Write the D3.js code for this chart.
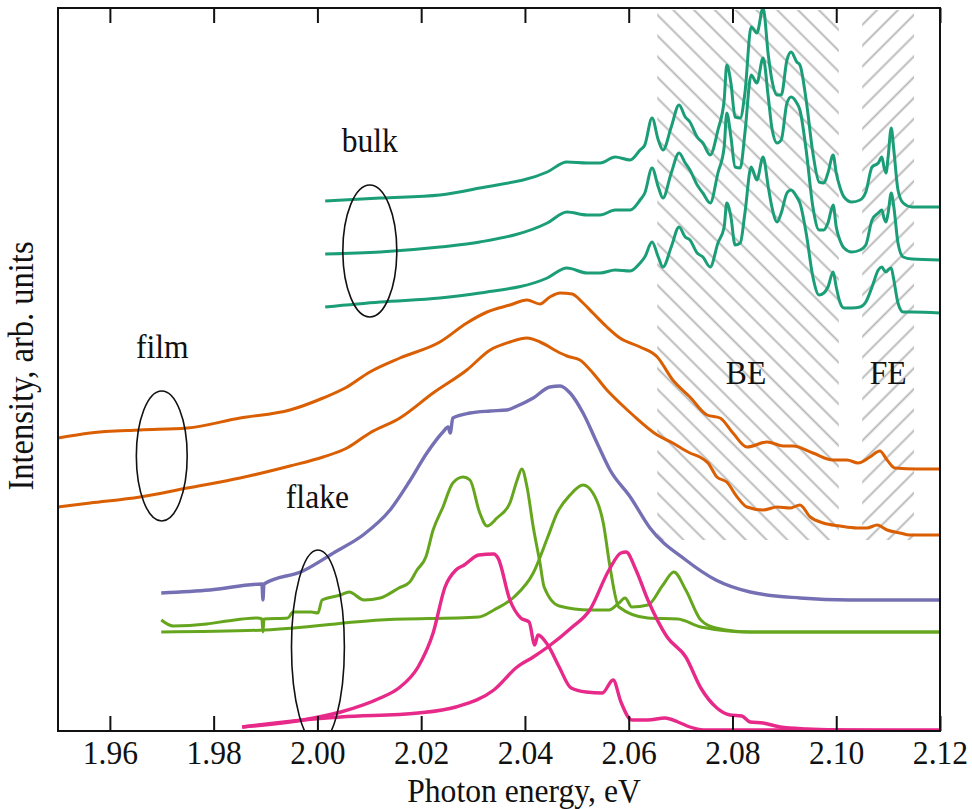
<!DOCTYPE html>
<html>
<head>
<meta charset="utf-8">
<script src="https://cdn.jsdelivr.net/npm/d3@7"></script>
<style>
  body { margin: 0; background: #fff; }
  svg { display: block; }
  text { font-family: "Liberation Serif", "Times New Roman", serif; fill: #111; }
</style>
</head>
<body>
<div id="chart"></div>
<script>
// ---- data (energy in eV, intensity in arb. units) ----
var xTicks = [1.96, 1.98, 2.00, 2.02, 2.04, 2.06, 2.08, 2.10, 2.12];

// bulk: three spectra sampled on the same energies
var bulkEnergy = [2.0015, 2.0121, 2.0236, 2.0313, 2.0443, 2.0481, 2.0520, 2.0545, 2.0574, 2.0603,
  2.0622, 2.0631, 2.0645, 2.0657, 2.0666, 2.0682, 2.0697, 2.0709, 2.0718, 2.0732,
  2.0743, 2.0757, 2.0772, 2.0784, 2.0789, 2.0797, 2.0805, 2.0815, 2.0824, 2.0836,
  2.0847, 2.0859, 2.0869, 2.0876, 2.0886, 2.0894, 2.0905, 2.0913, 2.0924, 2.0930,
  2.0942, 2.0955, 2.0967, 2.0976, 2.0984, 2.0994, 2.1000, 2.1007, 2.1015, 2.1030,
  2.1046, 2.1057, 2.1069, 2.1081, 2.1088, 2.1092, 2.1096, 2.1100, 2.1106, 2.1111,
  2.1119, 2.1129, 2.1146, 2.1200];
var bulkTop = [53.0, 53.3, 53.6, 54.3, 55.9, 56.9, 56.8, 56.8, 57.4, 57.1,
  58.1, 58.6, 61.3, 59.1, 58.1, 60.4, 62.6, 61.4, 60.9, 59.4,
  58.8, 57.6, 60.1, 63.1, 66.6, 64.8, 61.4, 61.3, 63.8, 70.4,
  69.8, 72.3, 67.6, 65.1, 63.6, 63.6, 67.1, 67.9, 66.9, 66.6,
  63.1, 57.8, 54.9, 54.8, 55.8, 57.6, 55.8, 54.4, 53.4, 52.9,
  53.1, 53.9, 56.4, 56.8, 57.4, 56.4, 55.8, 57.4, 60.3, 58.1,
  54.1, 52.8, 52.4, 52.4];
var bulkMid = [47.7, 47.9, 48.4, 48.9, 50.8, 51.9, 51.6, 51.6, 52.1, 52.1,
  53.1, 53.8, 56.3, 54.4, 53.3, 55.8, 57.8, 56.8, 56.1, 54.6,
  53.8, 52.8, 55.8, 58.4, 61.8, 59.4, 56.4, 56.3, 59.8, 65.6,
  64.8, 67.3, 63.4, 60.3, 58.8, 59.1, 62.8, 63.4, 62.8, 62.1,
  58.1, 52.4, 50.1, 50.1, 50.8, 52.6, 50.4, 49.1, 48.3, 47.9,
  48.1, 48.6, 51.1, 51.8, 52.1, 51.3, 50.9, 51.8, 53.8, 52.4,
  48.8, 47.4, 47.2, 47.1];
var bulkLow = [42.4, 42.9, 43.3, 43.8, 45.3, 46.3, 45.8, 45.8, 46.1, 46.0,
  46.8, 47.4, 48.9, 47.4, 46.4, 48.4, 50.4, 49.4, 49.1, 47.8,
  47.4, 46.4, 48.8, 50.4, 52.8, 51.4, 48.6, 48.8, 51.8, 56.4,
  55.1, 57.4, 54.4, 52.4, 50.9, 51.8, 53.8, 54.1, 53.4, 52.8,
  49.8, 45.4, 43.6, 43.8, 44.4, 45.9, 44.4, 42.9, 42.3, 42.3,
  42.4, 42.9, 44.4, 46.1, 46.4, 46.1, 45.9, 46.1, 46.3, 45.1,
  42.8, 41.9, 41.9, 41.8];

// film
var filmTopEnergy = [1.9500, 1.9562, 1.9658, 1.9749, 1.9851, 1.9947, 2.0011, 2.0057, 2.0101, 2.0159,
  2.0236, 2.0288, 2.0327, 2.0371, 2.0404, 2.0429, 2.0448, 2.0468, 2.0491, 2.0510,
  2.0531, 2.0558, 2.0583, 2.0622, 2.0655, 2.0685, 2.0718, 2.0751, 2.0776, 2.0801,
  2.0828, 2.0867, 2.0898, 2.0917, 2.0955, 2.0994, 2.1021, 2.1042, 2.1065, 2.1084,
  2.1098, 2.1113, 2.1156, 2.1200];
var filmTop = [29.3, 29.8, 30.1, 30.3, 31.3, 32.1, 33.3, 34.4, 35.9, 37.3,
  38.9, 40.8, 41.9, 42.6, 43.1, 42.7, 43.4, 43.8, 43.7, 42.9,
  41.8, 40.4, 39.3, 38.4, 37.4, 35.1, 33.4, 31.6, 31.3, 29.8,
  28.4, 28.9, 28.5, 28.5, 27.8, 27.1, 27.1, 26.8, 27.4, 28.0,
  27.1, 26.3, 26.2, 26.2];
var filmLowEnergy = [1.9500, 1.9562, 1.9658, 1.9749, 1.9851, 1.9947, 2.0011, 2.0057, 2.0101, 2.0159,
  2.0223, 2.0288, 2.0333, 2.0371, 2.0404, 2.0429, 2.0468, 2.0481, 2.0506, 2.0531,
  2.0558, 2.0583, 2.0608, 2.0655, 2.0685, 2.0718, 2.0737, 2.0753, 2.0770, 2.0789,
  2.0809, 2.0828, 2.0859, 2.0886, 2.0911, 2.0930, 2.0950, 2.0975, 2.1007, 2.1040,
  2.1059, 2.1079, 2.1098, 2.1123, 2.1142, 2.1200];
var filmLow = [22.4, 22.8, 23.4, 24.3, 25.3, 26.5, 27.4, 28.3, 29.8, 31.3,
  33.8, 36.1, 38.1, 38.9, 39.3, 38.9, 37.8, 37.5, 37.1, 35.8,
  34.1, 32.8, 31.6, 29.6, 28.8, 27.8, 27.4, 26.8, 25.4, 24.9,
  23.4, 22.4, 22.1, 22.4, 22.3, 22.6, 21.4, 20.8, 20.5, 20.3,
  20.3, 20.6, 20.1, 19.8, 19.6, 19.6];

// flake
var flakeBlueEnergy = [1.9699, 1.9793, 1.9893, 1.9895, 1.9897, 1.9972, 2.0034, 2.0088, 2.0140, 2.0178,
  2.0211, 2.0242, 2.0252, 2.0256, 2.0261, 2.0294, 2.0333, 2.0365, 2.0385, 2.0416,
  2.0448, 2.0468, 2.0487, 2.0512, 2.0539, 2.0564, 2.0603, 2.0641, 2.0710, 2.0768,
  2.0834, 2.0930, 2.1027, 2.1200];
var flakeBlue = [13.8, 14.1, 14.7, 13.1, 14.7, 16.0, 17.9, 19.6, 22.1, 25.0,
  27.8, 29.9, 30.4, 29.8, 31.3, 31.8, 32.0, 32.1, 32.5, 33.3,
  34.4, 34.5, 33.8, 31.8, 28.8, 26.1, 23.4, 20.3, 17.1, 15.1,
  13.9, 13.3, 13.1, 13.1];
var flakeGreenAEnergy = [1.9699, 1.9722, 1.9787, 1.9826, 1.9884, 1.9893, 1.9895, 1.9897, 1.9943, 1.9953,
  1.9988, 2.0001, 2.0009, 2.0045, 2.0061, 2.0090, 2.0121, 2.0157, 2.0178, 2.0192,
  2.0209, 2.0223, 2.0242, 2.0261, 2.0281, 2.0294, 2.0313, 2.0327, 2.0346, 2.0371,
  2.0385, 2.0394, 2.0404, 2.0416, 2.0429, 2.0437, 2.0466, 2.0525, 2.0562, 2.0581,
  2.0593, 2.0606, 2.0637, 2.0666, 2.0687, 2.0710, 2.0739, 2.0768, 2.0834, 2.1200];
var flakeGreenA = [11.1, 10.5, 10.7, 11.0, 11.3, 11.2, 9.9, 11.2, 11.3, 11.9,
  11.9, 11.8, 13.1, 13.6, 13.9, 13.1, 13.3, 14.3, 14.9, 16.1,
  17.4, 20.1, 22.4, 24.8, 25.4, 25.1, 21.8, 20.5, 21.3, 22.8,
  25.1, 26.2, 24.4, 20.4, 16.8, 14.4, 12.5, 12.1, 12.1, 12.8,
  13.3, 12.4, 12.6, 14.6, 15.9, 14.1, 11.1, 10.3, 9.9, 9.9];
var flakeGreenBEnergy = [1.9699, 1.9899, 2.0121, 2.0311, 2.0340, 2.0379, 2.0416, 2.0444, 2.0462, 2.0487,
  2.0512, 2.0531, 2.0551, 2.0564, 2.0581, 2.0637, 2.0695, 2.0739, 2.0834, 2.1200];
var flakeGreenB = [9.9, 10.1, 11.1, 11.4, 12.1, 13.4, 15.8, 19.4, 21.8, 23.6,
  24.6, 23.8, 20.8, 16.4, 12.4, 11.3, 11.2, 10.4, 9.9, 9.9];
var flakePinkAEnergy = [1.9855, 1.9972, 2.0045, 2.0121, 2.0157, 2.0194, 2.0223, 2.0246, 2.0267, 2.0283,
  2.0311, 2.0340, 2.0348, 2.0371, 2.0392, 2.0408, 2.0419, 2.0425, 2.0444, 2.0466,
  2.0489, 2.0518, 2.0549, 2.0570, 2.0585, 2.0606, 2.0637, 2.0670, 2.0695, 2.0718,
  2.0751, 2.1200];
var flakePinkA = [0.4, 1.1, 1.9, 3.3, 4.3, 6.4, 9.8, 14.4, 16.1, 16.6,
  17.6, 17.7, 17.3, 13.1, 11.3, 10.9, 8.6, 9.6, 8.6, 6.4,
  4.3, 3.9, 3.8, 5.1, 2.9, 1.1, 1.1, 1.3, 0.9, 0.4,
  0.1, 0.1];
var flakePinkBEnergy = [1.9855, 1.9972, 2.0045, 2.0194, 2.0267, 2.0340, 2.0385, 2.0416, 2.0444, 2.0489,
  2.0525, 2.0562, 2.0585, 2.0595, 2.0614, 2.0637, 2.0674, 2.0710, 2.0739, 2.0770,
  2.0795, 2.0818, 2.0834, 2.0859, 2.0892, 2.0944, 2.1007, 2.1200];
var flakePinkB = [0.4, 1.1, 1.4, 1.8, 2.4, 4.1, 6.4, 7.4, 8.4, 10.3,
  12.1, 16.1, 17.8, 17.9, 16.1, 13.1, 9.4, 7.4, 4.3, 2.3,
  1.6, 1.5, 0.9, 0.8, 0.4, 0.2, 0.1, 0.0];

// hatched regions (bound exciton, free exciton)
var regionNames = ["BE", "FE"];
var regionStart = [2.0655, 2.1050];
var regionEnd = [2.1005, 2.1150];
var regionLow = 19.1, regionHigh = 72.1;

// sample groups: label + ellipse (centre energy, centre intensity, half widths)
var groupNames = ["bulk", "film", "flake"];
var groupLabelE = [2.0101, 1.9701, 2.0000];
var groupLabelI = [57.9, 37.3, 22.3];
var ellipseE = [2.0101, 1.9700, 2.0001];
var ellipseI = [48.0, 27.5, 8.4];
var ellipseRE = [0.0052, 0.0049, 0.0051];
var ellipseRI = [6.6, 6.5, 9.7];

// ---- layout ----
var svgWidth = 972;
var svgHeight = 809;
var margin = {top: 8, right: 32, bottom: 78, left: 58};
var width = svgWidth - margin.left - margin.right;
var height = svgHeight - margin.top - margin.bottom;

var svg = d3.select("#chart").append("svg")
  .attr("width", svgWidth)
  .attr("height", svgHeight);

var chartGroup = svg.append("g")
  .attr("transform", `translate(${margin.left}, ${margin.top})`);

var x = d3.scaleLinear().domain([1.95, 2.12]).range([0, width]);
var y = d3.scaleLinear().domain([0, 72.3]).range([height, 0]);

var defs = svg.append("defs");
defs.append("clipPath").attr("id", "plotClip")
  .append("rect").attr("width", width).attr("height", height);

// hatch patterns: "\" for BE, "/" for FE
function hatch(id, angle) {
  defs.append("pattern")
    .attr("id", id)
    .attr("patternUnits", "userSpaceOnUse")
    .attr("width", 14.7)
    .attr("height", 14.7)
    .attr("patternTransform", `rotate(${angle})`)
    .append("line")
    .attr("x1", 7.35).attr("y1", -1)
    .attr("x2", 7.35).attr("y2", 15.7)
    .attr("stroke", "#b4b4b4")
    .attr("stroke-width", 1.8);
}
hatch("hatchBE", -45);
hatch("hatchFE", 45);

chartGroup.selectAll("rect.region")
  .data(regionNames)
  .enter()
  .append("rect")
  .attr("class", "region")
  .attr("x", (d, i) => x(regionStart[i]))
  .attr("width", (d, i) => x(regionEnd[i]) - x(regionStart[i]))
  .attr("y", y(regionHigh))
  .attr("height", y(regionLow) - y(regionHigh))
  .attr("fill", d => `url(#hatch${d})`);

// ---- spectra ----
var dark2 = d3.schemeDark2;
var series = [
  {e: bulkEnergy, v: bulkTop, color: dark2[0], w: 3},
  {e: bulkEnergy, v: bulkMid, color: dark2[0], w: 3},
  {e: bulkEnergy, v: bulkLow, color: dark2[0], w: 3},
  {e: filmTopEnergy, v: filmTop, color: dark2[1], w: 3},
  {e: filmLowEnergy, v: filmLow, color: dark2[1], w: 3},
  {e: flakeBlueEnergy, v: flakeBlue, color: dark2[2], w: 3.4},
  {e: flakeGreenAEnergy, v: flakeGreenA, color: dark2[4], w: 3},
  {e: flakeGreenBEnergy, v: flakeGreenB, color: dark2[4], w: 3},
  {e: flakePinkAEnergy, v: flakePinkA, color: dark2[3], w: 3.4},
  {e: flakePinkBEnergy, v: flakePinkB, color: dark2[3], w: 3.4}
];

var line = d3.line()
  .x(d => x(d[0]))
  .y(d => y(d[1]))
  .curve(d3.curveMonotoneX);

var lineGroup = chartGroup.append("g").attr("clip-path", "url(#plotClip)");
lineGroup.selectAll("path")
  .data(series)
  .enter()
  .append("path")
  .attr("fill", "none")
  .attr("stroke", d => d.color)
  .attr("stroke-width", d => d.w)
  .attr("stroke-linejoin", "round")
  .attr("d", d => line(d.e.map((e, i) => [e, d.v[i]])));

// ellipses around each group of spectra
lineGroup.selectAll("ellipse")
  .data(groupNames)
  .enter()
  .append("ellipse")
  .attr("cx", (d, i) => x(ellipseE[i]))
  .attr("cy", (d, i) => y(ellipseI[i]))
  .attr("rx", (d, i) => x(ellipseE[i] + ellipseRE[i]) - x(ellipseE[i]))
  .attr("ry", (d, i) => y(0) - y(ellipseRI[i]))
  .attr("fill", "none")
  .attr("stroke", "#111")
  .attr("stroke-width", 1.6);

// text labels, slightly condensed like the original type
function label(g, txt, px, py, size, anchor) {
  return g.append("text")
    .attr("transform", `translate(${px}, ${py}) scale(0.93, 1)`)
    .attr("text-anchor", anchor || "middle")
    .style("font-size", size + "px")
    .text(txt);
}
groupNames.forEach(function(name, i) {
  label(chartGroup, name, x(groupLabelE[i]), y(groupLabelI[i]), 34);
});
regionNames.forEach(function(name, i) {
  label(chartGroup, name, x((regionStart[i] + regionEnd[i]) / 2) + (i === 0 ? -2 : 0), y(34.7), 34);
});

// ---- axes ----
var bottomAxis = d3.axisBottom(x)
  .tickValues(xTicks)
  .tickSizeInner(-15)
  .tickSizeOuter(0)
  .tickPadding(9)
  .tickFormat(d3.format(".2f"));
var topAxis = d3.axisTop(x)
  .tickValues(xTicks)
  .tickSizeInner(-15)
  .tickSizeOuter(0)
  .tickFormat("");

var xAxis = chartGroup.append("g")
  .attr("transform", `translate(0, ${height})`)
  .call(bottomAxis);
xAxis.select(".domain").remove();
xAxis.selectAll("line").attr("stroke", "#111").attr("stroke-width", 2);
xAxis.selectAll("text")
  .attr("font-family", null)
  .style("font-size", "34px")
  .attr("transform", "scale(0.93, 1)");

var tAxis = chartGroup.append("g").call(topAxis);
tAxis.select(".domain").remove();
tAxis.selectAll("line").attr("stroke", "#111").attr("stroke-width", 2);

// frame
chartGroup.append("rect")
  .attr("width", width)
  .attr("height", height)
  .attr("fill", "none")
  .attr("stroke", "#111")
  .attr("stroke-width", 2);

// axis titles
label(svg, "Photon energy, eV", 524, 802, 34);
svg.append("text")
  .attr("transform", "translate(33, 366) rotate(-90) scale(0.93, 1)")
  .attr("text-anchor", "middle")
  .style("font-size", "35px")
  .text("Intensity, arb. units");
</script>
